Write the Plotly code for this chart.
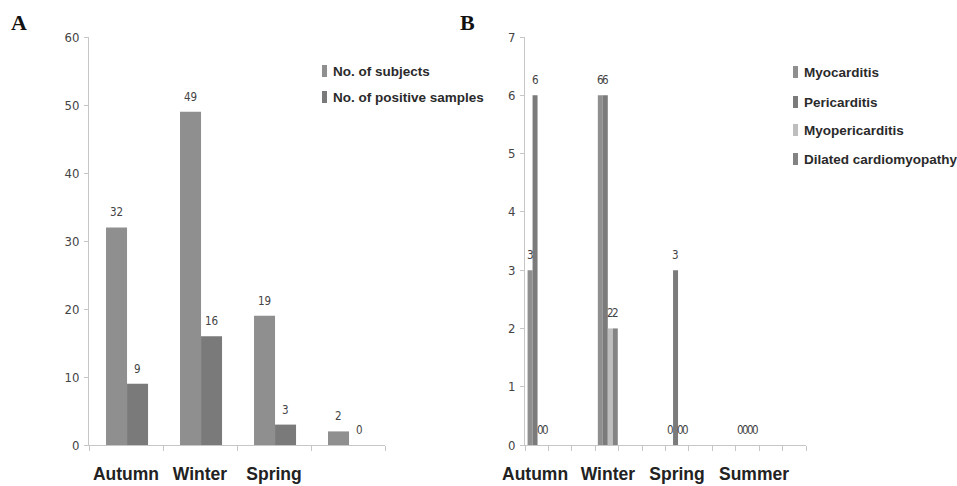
import plotly.graph_objects as go

# ---------------- data ----------------
seasons = ["Autumn", "Winter", "Spring", "Summer"]

# Panel A
a_tick_labels = ["Autumn", "Winter", "Spring", ""]
a_series_names = ["No. of subjects", "No. of positive samples"]
a_subjects = [32, 49, 19, 2]
a_positive = [9, 16, 3, 0]

# Panel B
b_tick_labels = ["Autumn", "Winter", "Spring", "Summer"]
b_series_names = ["Myocarditis", "Pericarditis", "Myopericarditis", "Dilated cardiomyopathy"]
b_myocarditis = [3, 6, 0, 0]
b_pericarditis = [6, 6, 3, 0]
b_myopericarditis = [0, 2, 0, 0]
b_dcm = [0, 2, 0, 0]

# ---------------- styling ----------------
W, H = 957, 486
AXIS = "#c6c6c6"
NARROW = "Liberation Sans Narrow, DejaVu Sans Condensed, Arial Narrow, sans-serif"
BOLD = "Liberation Sans, Arial, sans-serif"

a_colors = ["#8f8f8f", "#7a7a7a"]
b_colors = ["#8f8f8f", "#7b7b7b", "#bebebe", "#838383"]
b_label_pos = [0.43, 3.54, 6.49, 9.78]   # where the season names sit on panel B's axis

def px_x(p):
    return p / W

def px_y(p):
    return 1 - p / H

fig = go.Figure()
annotations = []
shapes = []

# ---- Panel A bars ----
a_x = [i + 0.5 for i in range(len(seasons))]
a_width = 0.284
a_offsets = [-0.27, 0.014]
for name, vals, col, off in zip(a_series_names, [a_subjects, a_positive], a_colors, a_offsets):
    fig.add_trace(go.Bar(
        x=a_x, y=vals, name=name, width=a_width, offset=off,
        marker=dict(color=col, line=dict(width=0)),
        xaxis="x", yaxis="y", showlegend=False, hoverinfo="y+name",
    ))
    for xv, yv in zip(a_x, vals):
        annotations.append(dict(
            x=xv + off + a_width / 2, y=yv, xref="x", yref="y",
            text=str(yv), showarrow=False, yshift=15, yanchor="middle",
            font=dict(family=NARROW, size=11.5, color="#444444"),
        ))

# ---- Panel B bars ----
b_x = [3 * i + 0.5 for i in range(len(seasons))]
b_width = 0.213
b_start = -0.39
b_vals = [b_myocarditis, b_pericarditis, b_myopericarditis, b_dcm]
for k, (name, vals, col) in enumerate(zip(b_series_names, b_vals, b_colors)):
    off = b_start + k * b_width
    fig.add_trace(go.Bar(
        x=b_x, y=vals, name=name, width=b_width, offset=off,
        marker=dict(color=col, line=dict(width=0)),
        xaxis="x2", yaxis="y2", showlegend=False, hoverinfo="y+name",
    ))
    for xv, yv in zip(b_x, vals):
        annotations.append(dict(
            x=xv + off + b_width / 2, y=yv, xref="x2", yref="y2",
            text=str(yv), showarrow=False, yshift=15, yanchor="middle",
            font=dict(family=NARROW, size=11.5, color="#444444"),
        ))

# ---- manual legends ----
def legend(names, colors, x_marker, x_text, rows):
    for name, col, yc in zip(names, colors, rows):
        shapes.append(dict(
            type="rect", xref="paper", yref="paper",
            x0=px_x(x_marker), x1=px_x(x_marker + 5),
            y0=px_y(yc + 6), y1=px_y(yc - 6),
            fillcolor=col, line=dict(width=0),
        ))
        annotations.append(dict(
            x=px_x(x_text), y=px_y(yc), xref="paper", yref="paper",
            text="<b>%s</b>" % name, showarrow=False, xanchor="left", yanchor="middle",
            font=dict(family=BOLD, size=13.5, color="#2a2a2a"),
        ))

legend(a_series_names, a_colors, 322, 331, [71, 97])
legend(b_series_names, b_colors, 793, 802, [72, 102, 130, 159])

# ---- panel letters ----
for letter, xc in [("A", 18.5), ("B", 467.5)]:
    annotations.append(dict(
        x=px_x(xc), y=px_y(22), xref="paper", yref="paper",
        text="<b>%s</b>" % letter, showarrow=False, xanchor="center", yanchor="middle",
        font=dict(family="Liberation Serif, Times New Roman, serif", size=22, color="#111111"),
    ))

ydom = [px_y(445), px_y(37)]

def xaxis(domain, rng, tickvals, ticktext, minor_vals, anchor):
    return dict(
        domain=domain, range=rng, tickmode="array", tickvals=tickvals,
        ticktext=["<b>%s</b>" % t if t else "" for t in ticktext], anchor=anchor,
        ticks="", showline=True, linecolor=AXIS, linewidth=1, showgrid=False, zeroline=False,
        tickfont=dict(family=BOLD, size=17.5, color="#222222"), ticklabelstandoff=13,
        minor=dict(ticks="outside", tickmode="array", tickvals=minor_vals, ticklen=5,
                   tickcolor=AXIS, tickwidth=1, showgrid=False),
        automargin=False, fixedrange=True,
    )

def yaxis(domain, rng, dtick, anchor):
    return dict(
        domain=domain, range=rng, dtick=dtick, tick0=0, anchor=anchor,
        ticks="outside", ticklen=4, tickcolor=AXIS, showline=True, linecolor=AXIS, linewidth=1,
        showgrid=False, zeroline=False,
        tickfont=dict(family=NARROW, size=13, color="#444444"), ticklabelstandoff=2,
        automargin=False, fixedrange=True,
    )

fig.update_layout(
    width=W, height=H, margin=dict(l=0, r=0, t=0, b=0, autoexpand=False),
    paper_bgcolor="white", plot_bgcolor="white",
    barmode="overlay",
    xaxis=xaxis([px_x(89), px_x(385)], [0, 4], a_x, a_tick_labels, list(range(0, 5)), "y"),
    yaxis=yaxis(ydom, [0, 60], 10, "x"),
    xaxis2=xaxis([px_x(525), px_x(806)], [0, 12], b_label_pos, b_tick_labels, list(range(0, 13)), "y2"),
    yaxis2=yaxis(ydom, [0, 7], 1, "x2"),
    annotations=annotations,
    shapes=shapes,
)

fig.write_html(
    "out.html",
    config={"displayModeBar": False},
    post_script="document.body.style.margin='0';document.body.style.padding='0';"
                "document.documentElement.style.overflow='hidden';",
)
